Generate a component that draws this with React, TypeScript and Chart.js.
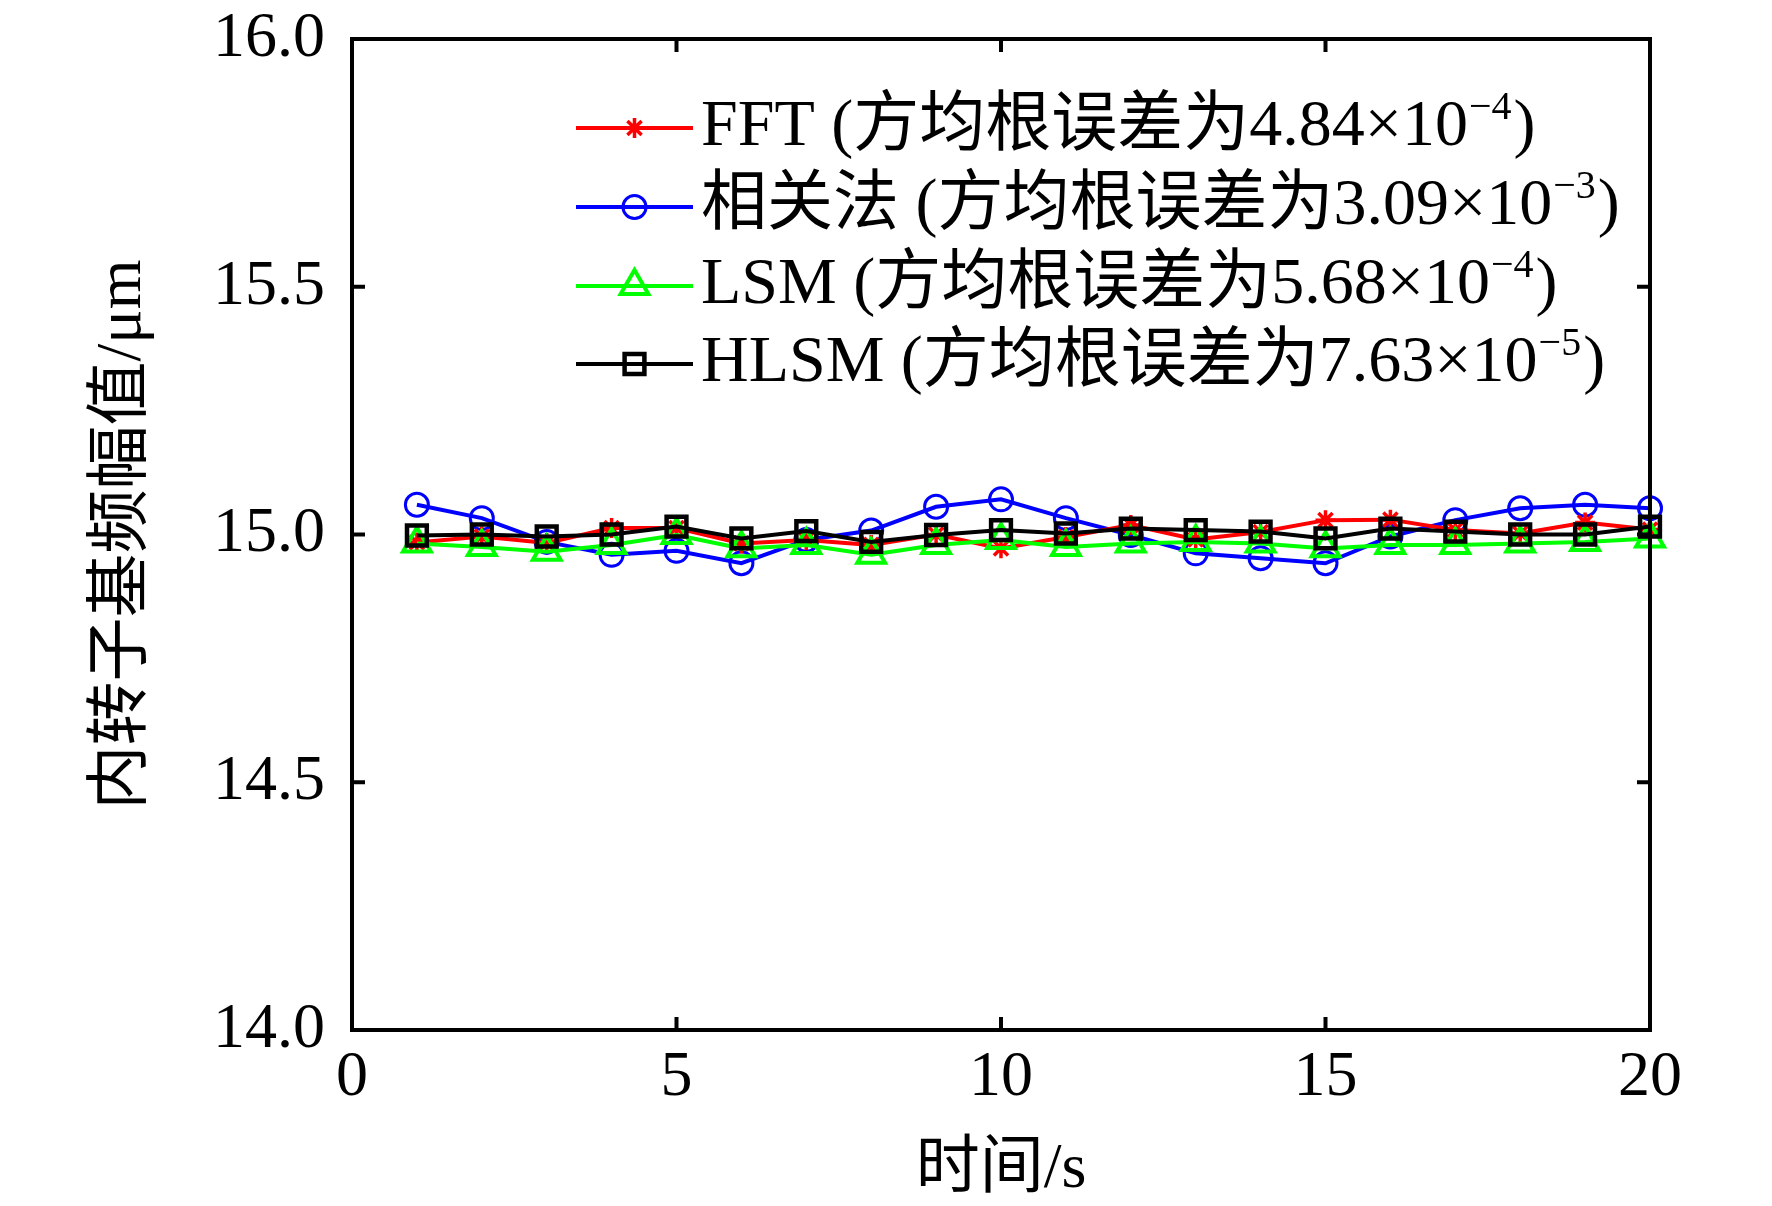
import React, { useEffect, useRef } from "react";
import { Chart, registerables, Plugin } from "chart.js";
import { drawPoint } from "chart.js/helpers";

Chart.register(...registerables);

// time axis (s)
const times = [1, 2, 3, 4, 5, 6, 7, 8, 9, 10, 11, 12, 13, 14, 15, 16, 17, 18, 19, 20];

// fundamental amplitude of inner rotor (um)
const fftValues = [
  14.984, 14.996, 14.983, 15.013, 15.013, 14.982, 14.989, 14.979, 15.0, 14.972,
  14.995, 15.019, 14.99, 15.005, 15.029, 15.03, 15.009, 15.002, 15.024, 15.01,
];
const corrValues = [
  15.06, 15.033, 14.985, 14.959, 14.967, 14.942, 14.989, 15.008, 15.056, 15.071,
  15.033, 14.999, 14.962, 14.952, 14.942, 14.996, 15.029, 15.053, 15.06, 15.053,
];
const lsmValues = [
  14.982, 14.975, 14.965, 14.979, 14.999, 14.972, 14.979, 14.959, 14.979, 14.989,
  14.975, 14.982, 14.985, 14.982, 14.972, 14.979, 14.979, 14.982, 14.985, 14.992,
];
const hlsmValues = [
  14.998, 15.0, 14.996, 15.0, 15.016, 14.992, 15.007, 14.985, 14.999, 15.009,
  15.002, 15.012, 15.009, 15.006, 14.992, 15.012, 15.006, 15.0, 15.0, 15.016,
];

const seriesNames = ["FFT", "相关法", "LSM", "HLSM"];
const rmsMantissa = ["4.84", "3.09", "5.68", "7.63"];
const rmsExponent = ["−4", "−3", "−4", "−5"];

const xTicks = [0, 5, 10, 15, 20];
const yTicks = [14.0, 14.5, 15.0, 15.5, 16.0];

const FONT = "'Liberation Serif', 'Times New Roman', 'Noto Sans CJK SC', serif";

const toPoints = (vals: number[]) => times.map((t, i) => ({ x: t, y: vals[i] }));

// frame with inward ticks on all four sides
const framePlugin: Plugin = {
  id: "frame",
  afterDatasetsDraw(chart) {
    const { ctx, chartArea } = chart;
    const { left, right, top, bottom } = chartArea;
    const xs = chart.scales.x;
    const ys = chart.scales.y;
    const tick = 13;
    ctx.save();
    ctx.strokeStyle = "#000";
    ctx.lineWidth = 4;
    ctx.strokeRect(left, top, right - left, bottom - top);
    ctx.beginPath();
    xs.ticks.forEach((t) => {
      const px = xs.getPixelForValue(t.value);
      ctx.moveTo(px, bottom);
      ctx.lineTo(px, bottom - tick);
      ctx.moveTo(px, top);
      ctx.lineTo(px, top + tick);
    });
    ys.ticks.forEach((t) => {
      const py = ys.getPixelForValue(t.value);
      ctx.moveTo(left, py);
      ctx.lineTo(left + tick, py);
      ctx.moveTo(right, py);
      ctx.lineTo(right - tick, py);
    });
    ctx.stroke();
    ctx.restore();
  },
};

// legend with line + marker and superscripted exponent
const legendPlugin: Plugin = {
  id: "customLegend",
  afterDraw(chart) {
    const { ctx } = chart;
    const x0 = 576;
    const x1 = 693;
    const textX = 701;
    const rowY = [128, 207, 286, 364];
    ctx.save();
    chart.data.datasets.forEach((dsAny, row) => {
      const ds: any = dsAny;
      const y = rowY[row];
      ctx.strokeStyle = ds.borderColor;
      ctx.lineWidth = ds.borderWidth;
      ctx.beginPath();
      ctx.moveTo(x0, y);
      ctx.lineTo(x1, y);
      ctx.stroke();
      ctx.fillStyle = "rgba(0,0,0,0)";
      ctx.strokeStyle = ds.pointBorderColor;
      ctx.lineWidth = ds.pointBorderWidth;
      drawPoint(
        ctx,
        { pointStyle: ds.pointStyle, radius: ds.pointRadius, rotation: 0, borderWidth: ds.pointBorderWidth },
        (x0 + x1) / 2,
        y
      );

      ctx.fillStyle = "#000";
      ctx.textBaseline = "middle";
      ctx.textAlign = "left";
      ctx.font = `66px ${FONT}`;
      const main = `${seriesNames[row]} (方均根误差为${rmsMantissa[row]}×10`;
      ctx.fillText(main, textX, y);
      let cx = textX + ctx.measureText(main).width;
      ctx.font = `40px ${FONT}`;
      ctx.fillText(rmsExponent[row], cx + 1, y - 20);
      cx += ctx.measureText(rmsExponent[row]).width + 3;
      ctx.font = `66px ${FONT}`;
      ctx.fillText(")", cx, y);
    });
    ctx.restore();
  },
};

const App: React.FC = () => {
  const canvasRef = useRef<HTMLCanvasElement>(null);
  const chartRef = useRef<Chart | null>(null);

  useEffect(() => {
    document.body.style.margin = "0";
    if (!canvasRef.current) return;
    if (chartRef.current) chartRef.current.destroy();

    const common = { showLine: true, tension: 0, clip: false as const, fill: false };

    chartRef.current = new Chart(canvasRef.current, {
      type: "line",
      data: {
        datasets: [
          {
            ...common,
            label: seriesNames[0],
            data: toPoints(fftValues),
            borderColor: "#ff0000",
            borderWidth: 4,
            pointStyle: "star",
            pointRadius: 10,
            pointBorderColor: "#ff0000",
            pointBackgroundColor: "rgba(0,0,0,0)",
            pointBorderWidth: 3.5,
            order: 2,
          },
          {
            ...common,
            label: seriesNames[1],
            data: toPoints(corrValues),
            borderColor: "#0000ff",
            borderWidth: 4,
            pointStyle: "circle",
            pointRadius: 11.5,
            pointBorderColor: "#0000ff",
            pointBackgroundColor: "rgba(0,0,0,0)",
            pointBorderWidth: 3,
            order: 3,
          },
          {
            ...common,
            label: seriesNames[2],
            data: toPoints(lsmValues),
            borderColor: "#00ff00",
            borderWidth: 4,
            pointStyle: "triangle",
            pointRadius: 16,
            pointBorderColor: "#00ff00",
            pointBackgroundColor: "rgba(0,0,0,0)",
            pointBorderWidth: 4,
            order: 1,
          },
          {
            ...common,
            label: seriesNames[3],
            data: toPoints(hlsmValues),
            borderColor: "#000000",
            borderWidth: 4,
            pointStyle: "rect",
            pointRadius: 14,
            pointBorderColor: "#000000",
            pointBackgroundColor: "rgba(0,0,0,0)",
            pointBorderWidth: 4.5,
            order: 0,
          },
        ],
      },
      options: {
        animation: false,
        responsive: false,
        devicePixelRatio: 1,
        layout: { padding: { left: 0, top: 39, right: 122, bottom: 0 } },
        plugins: {
          legend: { display: false },
          tooltip: { enabled: false },
        },
        scales: {
          x: {
            type: "linear",
            min: 0,
            max: 20,
            afterBuildTicks: (scale) => {
              scale.ticks = xTicks.map((v) => ({ value: v }));
            },
            afterFit: (scale: any) => {
              scale.height = 176;
              scale.paddingLeft = 0;
              scale.paddingRight = 0;
            },
            grid: { display: false, drawTicks: false },
            border: { display: false },
            ticks: {
              color: "#000",
              padding: 10,
              maxRotation: 0,
              font: { family: FONT, size: 64 },
            },
            title: {
              display: true,
              text: "时间/s",
              color: "#000",
              font: { family: FONT, size: 64, lineHeight: 1 },
              padding: { top: 0, bottom: 4 },
            },
          },
          y: {
            type: "linear",
            min: 14,
            max: 16,
            afterBuildTicks: (scale) => {
              scale.ticks = yTicks.map((v) => ({ value: v }));
            },
            afterFit: (scale: any) => {
              scale.width = 352;
              scale.paddingTop = 0;
              scale.paddingBottom = 0;
            },
            grid: { display: false, drawTicks: false },
            border: { display: false },
            ticks: {
              color: "#000",
              padding: 27,
              callback: (v) => Number(v).toFixed(1),
              font: { family: FONT, size: 64 },
            },
            title: {
              display: true,
              text: "内转子基频幅值/μm",
              color: "#000",
              font: { family: FONT, size: 64, lineHeight: 1 },
              padding: { top: 91, bottom: 0 },
            },
          },
        },
      },
      plugins: [framePlugin, legendPlugin],
    });

    return () => {
      if (chartRef.current) {
        chartRef.current.destroy();
        chartRef.current = null;
      }
    };
  }, []);

  return (
    <div style={{ width: 1772, height: 1206, background: "#fff" }}>
      <canvas ref={canvasRef} width={1772} height={1206} style={{ width: 1772, height: 1206 }} />
    </div>
  );
};

export default App;
